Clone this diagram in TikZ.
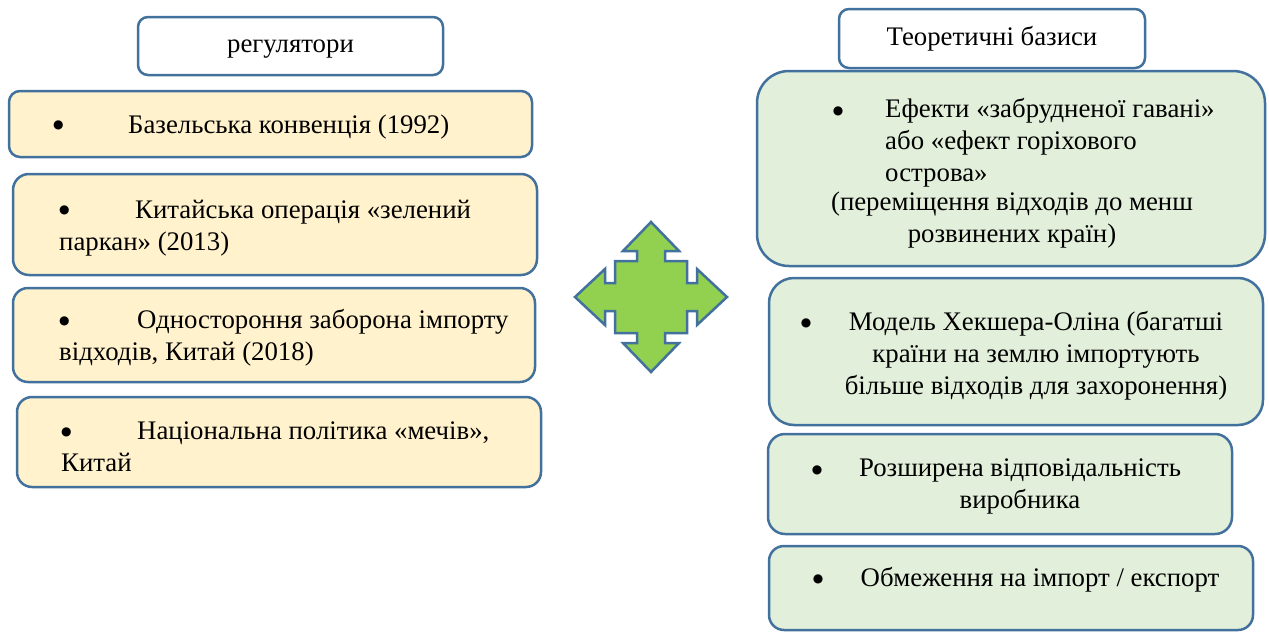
\documentclass[tikz,border=0pt]{standalone}
\usepackage{fontspec}
\setmainfont{Liberation Serif}
\newfontfamily\symfont{DejaVu Sans}
\usepackage{xcolor}
\definecolor{myedge}{HTML}{41719C}
\definecolor{myyellow}{HTML}{FFF2CC}
\definecolor{mygreen}{HTML}{E2EFDA}
\definecolor{mylime}{HTML}{92D050}
\newcommand{\bigdot}{\raisebox{4.5pt}{\symfont\fontsize{12}{12}\selectfont ●}}
\newcommand{\bul}[1]{\makebox[#1][l]{\bigdot}}

\begin{document}
\begin{tikzpicture}[x=1pt, y=-1pt,
    every node/.style={font=\fontsize{26.8}{32}\selectfont, inner sep=0pt},
    card/.style={rectangle, draw=myedge, line width=2.5pt},
    head/.style={card, fill=white, rounded corners=10, text height=18pt, text depth=5pt},
    regbox/.style={card, fill=myyellow},
    basbox/.style={card, fill=mygreen},
    bulnode/.style={text height=18pt, text depth=5pt},
    ltxt/.style={align=left, anchor=west},
    ctxt/.style={align=center}]
  \useasboundingbox (0,0) rectangle (1269,632);

  % left column: regulators
  \node[head, minimum width=305, minimum height=58] (hreg) at (290.5,46) {регулятори};
  \node[regbox, minimum width=523, minimum height=66, rounded corners=11] (reg1) at (270.5,124) {};
  \node[ltxt] (reg1t) at (53,127) {\bul{75pt}Базельська конвенція (1992)};
  \node[regbox, minimum width=524, minimum height=101, rounded corners=16] (reg2) at (275,224.5) {};
  \node[ltxt] (reg2t) at (59,228) {\bul{76pt}Китайська операція «зелений\\паркан» (2013)};
  \node[regbox, minimum width=522, minimum height=94, rounded corners=15] (reg3) at (274,335) {};
  \node[ltxt] (reg3t) at (59,338) {\bul{78pt}Одностороння заборона імпорту\\відходів, Китай (2018)};
  \node[regbox, minimum width=524, minimum height=90, rounded corners=15] (reg4) at (279,442) {};
  \node[ltxt] (reg4t) at (61,447) {\bul{76pt}Національна політика «мечів»,\\Китай};

  % four-way arrow
  \draw[fill=mylime, draw=myedge, line width=2.5pt, shift={(651,297)}]
    (-36,-36) -- (-14,-36) -- (-14,-46) -- (-28,-46) -- (0,-75) -- (28,-46) -- (14,-46) -- (14,-36)
    -- (36,-36) -- (36,-14) -- (46,-14) -- (46,-28) -- (76,0) -- (46,28) -- (46,14) -- (36,14)
    -- (36,36) -- (14,36) -- (14,46) -- (28,46) -- (0,75) -- (-28,46) -- (-14,46) -- (-14,36)
    -- (-36,36) -- (-36,14) -- (-46,14) -- (-46,28) -- (-76,0) -- (-46,-28) -- (-46,-14) -- (-36,-14)
    -- cycle;

  % right column: theoretical bases
  \node[head, minimum width=306, minimum height=59] (hbas) at (992,38.5) {Теоретичні базиси};
  \node[basbox, minimum width=508, minimum height=195, rounded corners=32] (bas1) at (1011,168.5) {};
  \node[bulnode] (bas1b) at (838,112) {\bigdot};
  \node[ltxt] (bas1t) at (885,142.5) {Ефекти «забрудненої гавані»\\або «ефект горіхового\\острова»};
  \node[ctxt] (bas1n) at (1012,220.5) {(переміщення відходів до менш\\розвинених країн)};
  \node[basbox, minimum width=494, minimum height=147, rounded corners=25] (bas2) at (1016,351.5) {};
  \node[bulnode] (bas2b) at (806,324) {\bigdot};
  \node[ctxt] (bas2t) at (1036,355.5) {Модель Хекшера-Оліна (багатші\\країни на землю імпортують\\більше відходів для захоронення)};
  \node[basbox, minimum width=464, minimum height=100, rounded corners=17] (bas3) at (1000,484) {};
  \node[bulnode] (bas3b) at (817,471) {\bigdot};
  \node[ctxt] (bas3t) at (1020,486.5) {Розширена відповідальність\\виробника};
  \node[basbox, minimum width=484, minimum height=84, rounded corners=15] (bas4) at (1011,588) {};
  \node[bulnode] (bas4b) at (818,580) {\bigdot};
  \node[ctxt] (bas4t) at (1040,580) {Обмеження на імпорт / експорт};
\end{tikzpicture}
\end{document}
